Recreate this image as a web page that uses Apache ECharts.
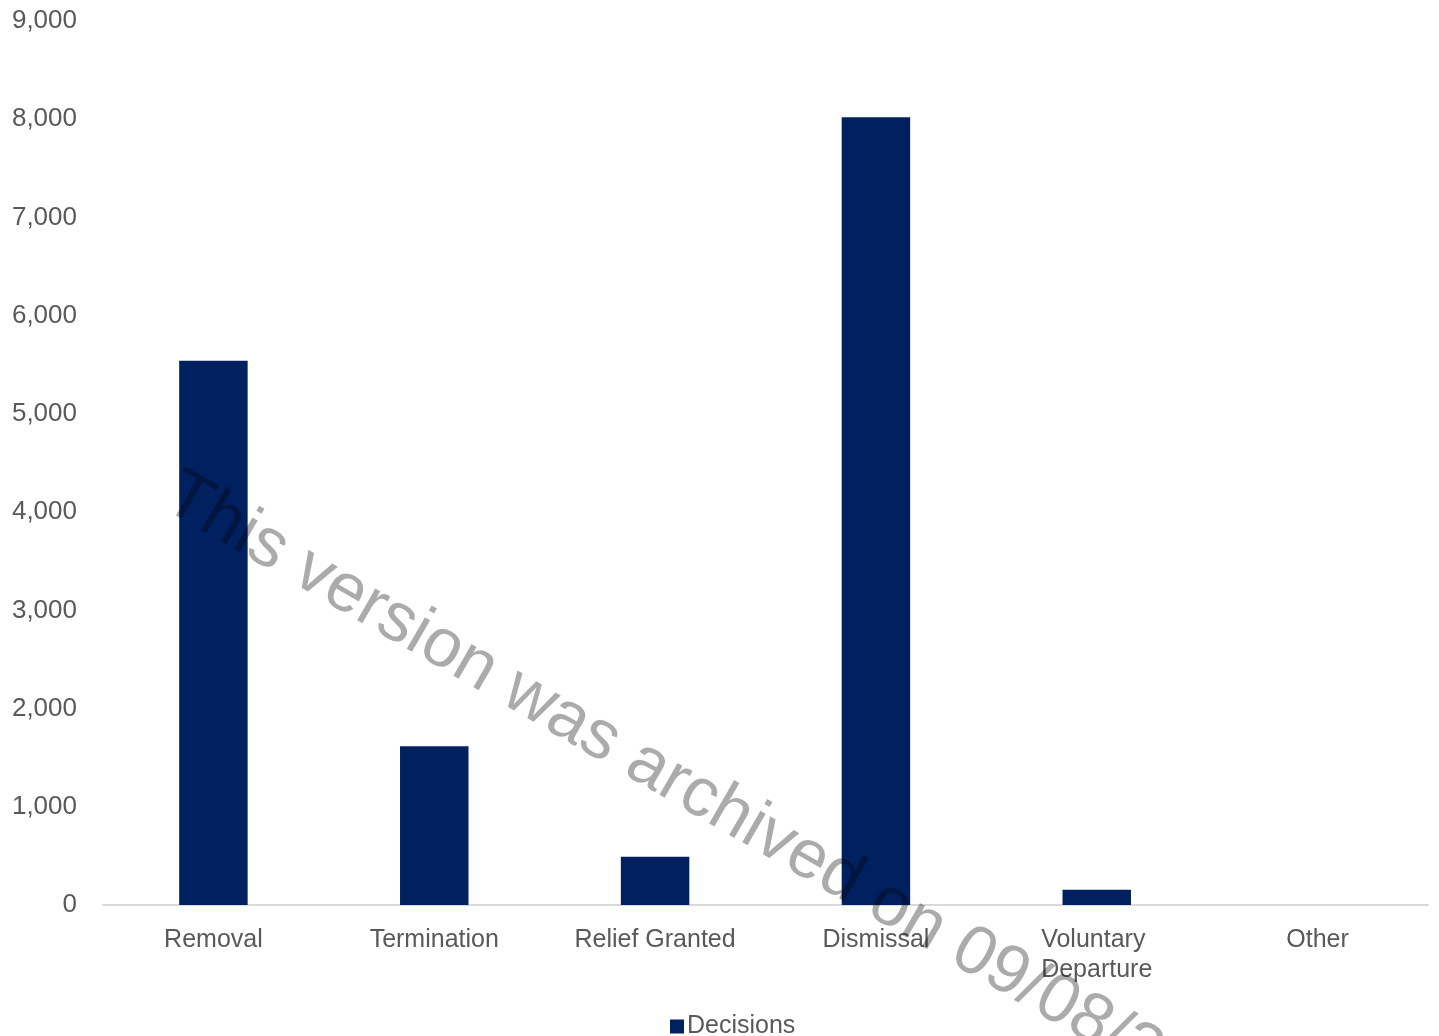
<!DOCTYPE html>
<html>
<head>
<meta charset="utf-8">
<script src="https://cdn.jsdelivr.net/npm/echarts@6/dist/echarts.min.js"></script>
<style>
html,body{margin:0;padding:0;background:#fff;}
#chart{width:1439px;height:1036px;}
</style>
</head>
<body>
<div id="chart"></div>
<script>
const categories = ["Removal", "Termination", "Relief Granted", "Dismissal", "Voluntary Departure", "Other"];
const decisions = [5540, 1615, 490, 8020, 155, 0];
const seriesName = "Decisions";
const watermarkText = "This version was archived on 09/08/2021";

const chart = echarts.init(document.getElementById('chart'));
const font = "'Liberation Sans', Arial, sans-serif";
chart.setOption({
  animation: false,
  grid: { left: 103, right: 11, top: 21, bottom: 131, containLabel: false },
  legend: {
    data: [seriesName],
    left: 665, top: 1009,
    itemWidth: 14, itemHeight: 14, itemGap: 10,
    icon: 'rect',
    textStyle: { color: '#595959', fontSize: 25, fontFamily: font, padding: [0,0,0,-2] }
  },
  xAxis: {
    type: 'category',
    data: categories,
    axisLine: { lineStyle: { color: '#d9d9d9', width: 2 } },
    axisTick: { show: false },
    axisLabel: {
      color: '#595959', fontSize: 25, fontFamily: font, margin: 20,
      width: 200, overflow: 'break', lineHeight: 30, interval: 0
    }
  },
  yAxis: {
    type: 'value',
    min: 0, max: 9000, interval: 1000,
    axisLine: { show: false },
    axisTick: { show: false },
    splitLine: { show: false },
    axisLabel: {
      color: '#595959', fontSize: 26, fontFamily: font, margin: 26,
      formatter: v => v.toLocaleString('en-US')
    }
  },
  series: [{
    name: seriesName,
    type: 'bar',
    data: decisions,
    barWidth: '31%',
    itemStyle: { color: '#002060' }
  }],
  graphic: [{
    type: 'text',
    x: 170, y: 490,
    rotation: -Math.PI / 6,
    z: 100,
    silent: true,
    style: {
      text: watermarkText,
      fontSize: 69,
      fontFamily: font,
      fill: 'rgba(0,0,0,0.33)',
      textAlign: 'left',
      textVerticalAlign: 'middle'
    }
  }]
});
</script>
</body>
</html>
